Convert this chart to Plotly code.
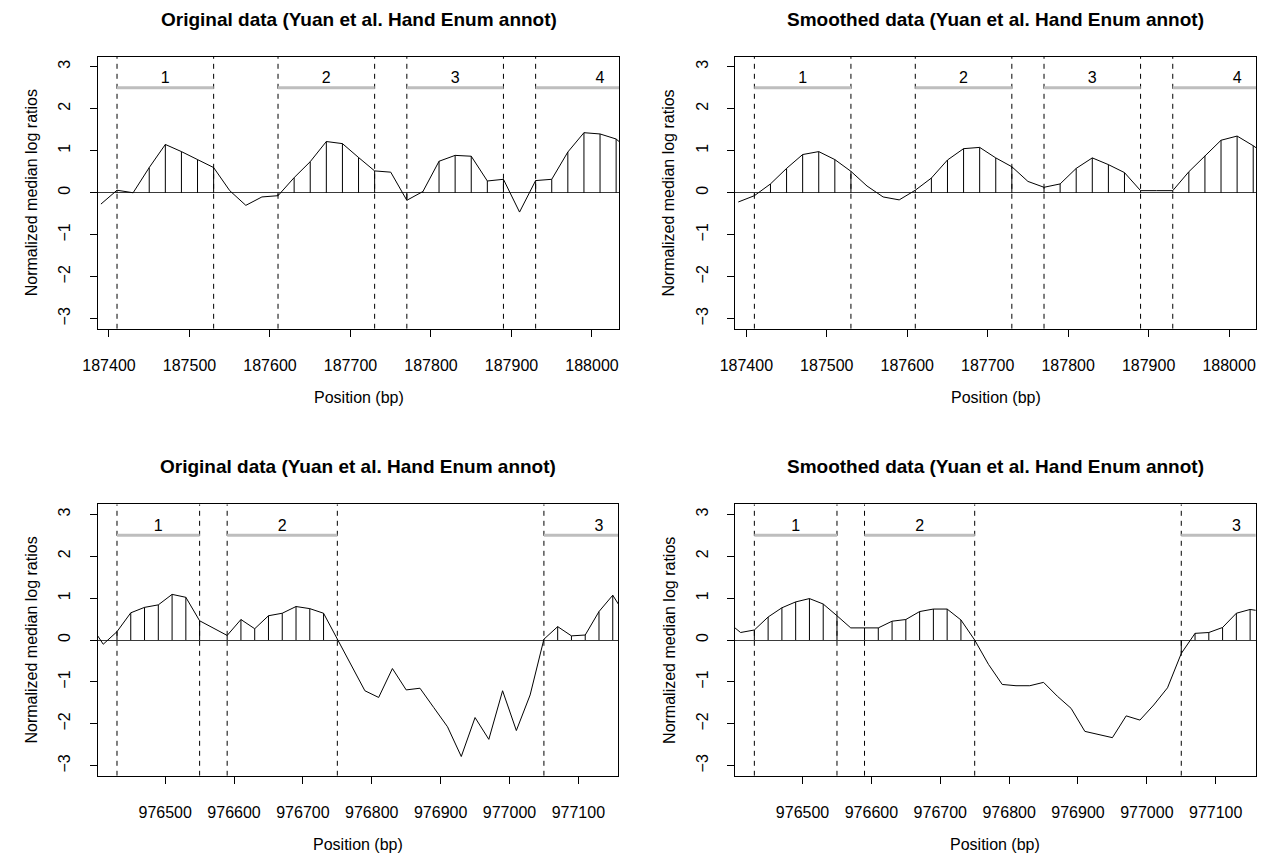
import plotly.graph_objects as go

W, H = 1267, 856

# ---------------- data ----------------
top_pos = [187390, 187410, 187430, 187450, 187470, 187490, 187510, 187530, 187550, 187570,
           187590, 187610, 187630, 187650, 187670, 187690, 187710, 187730, 187750, 187770,
           187790, 187810, 187830, 187850, 187870, 187890, 187910, 187930, 187950, 187970,
           187990, 188010, 188030, 188050]
top_original = [-0.27, 0.06, 0.00, 0.60, 1.15, 0.98, 0.79, 0.60, 0.05, -0.30,
                -0.10, -0.07, 0.36, 0.74, 1.22, 1.17, 0.84, 0.52, 0.49, -0.18,
                0.03, 0.75, 0.89, 0.87, 0.28, 0.32, -0.46, 0.29, 0.32, 0.97,
                1.43, 1.40, 1.28, 0.95]
top_smoothed = [-0.22, -0.07, 0.21, 0.58, 0.91, 0.98, 0.79, 0.51, 0.16, -0.10,
                -0.17, 0.06, 0.35, 0.78, 1.05, 1.08, 0.83, 0.62, 0.27, 0.13,
                0.21, 0.58, 0.83, 0.67, 0.48, 0.05, 0.05, 0.05, 0.50, 0.88,
                1.25, 1.35, 1.12, 0.85]
top_region_start = [187410, 187610, 187770, 187930]
top_region_end = [187530, 187730, 187890, 188090]
top_region_labels = ["1", "2", "3", "4"]
top_xlim = [187410, 188010]
top_xticks = [187400, 187500, 187600, 187700, 187800, 187900, 188000]

bot_pos = [976390, 976410, 976430, 976450, 976470, 976490, 976510, 976530, 976550, 976570,
           976590, 976610, 976630, 976650, 976670, 976690, 976710, 976730, 976750, 976770,
           976790, 976810, 976830, 976850, 976870, 976890, 976910, 976930, 976950, 976970,
           976990, 977010, 977030, 977050, 977070, 977090, 977110, 977130, 977150, 977170]
bot_original = [0.40, -0.10, 0.20, 0.65, 0.78, 0.84, 1.09, 1.02, 0.46, 0.28,
                0.11, 0.49, 0.27, 0.58, 0.64, 0.80, 0.75, 0.64, 0.02, -0.60,
                -1.21, -1.37, -0.68, -1.19, -1.15, -1.61, -2.07, -2.78, -1.85, -2.37,
                -1.21, -2.16, -1.31, 0.02, 0.32, 0.10, 0.12, 0.68, 1.07, 0.55]
bot_smoothed = [0.45, 0.18, 0.24, 0.55, 0.77, 0.91, 0.99, 0.86, 0.58, 0.29,
                0.29, 0.29, 0.45, 0.49, 0.68, 0.74, 0.74, 0.48, 0.00, -0.58,
                -1.06, -1.09, -1.09, -1.01, -1.34, -1.63, -2.18, -2.25, -2.33, -1.81,
                -1.91, -1.55, -1.14, -0.32, 0.16, 0.18, 0.30, 0.64, 0.73, 0.68]
bot_region_start = [976430, 976590, 977050]
bot_region_end = [976550, 976750, 977210]
bot_region_labels = ["1", "2", "3"]
bot_xlim = [976430, 977130]
bot_xticks = [976500, 976600, 976700, 976800, 976900, 977000, 977100]

ylim = [-3, 3]
yticks = [-3, -2, -1, 0, 1, 2, 3]
region_bar_y = 2.5
region_label_y = 2.70

title_original = "Original data (Yuan et al. Hand Enum annot)"
title_smoothed = "Smoothed data (Yuan et al. Hand Enum annot)"
xlabel = "Position (bp)"
ylabel = "Normalized median log ratios"

# ---------------- styling / layout ----------------
FONT = "Liberation Sans, Arial, Helvetica, sans-serif"
BASE = 16


def ext(lim):
    d = (lim[1] - lim[0]) * 0.04
    return [lim[0] - d, lim[1] + d]


Y_RANGE = ext(ylim)

# plot boxes in pixels: (left, right, top, bottom)
boxes = [
    (83.7, 611.6, 56.7, 328.8),
    (728.7, 1256.3, 56.7, 328.8),
    (83.7, 610.5, 504.3, 775.8),
    (728.7, 1255.5, 504.3, 775.8),
]

panels = [
    (top_pos, top_original, top_region_start, top_region_end, top_region_labels, top_xlim, top_xticks, title_original),
    (top_pos, top_smoothed, top_region_start, top_region_end, top_region_labels, top_xlim, top_xticks, title_smoothed),
    (bot_pos, bot_original, bot_region_start, bot_region_end, bot_region_labels, bot_xlim, bot_xticks, title_original),
    (bot_pos, bot_smoothed, bot_region_start, bot_region_end, bot_region_labels, bot_xlim, bot_xticks, title_smoothed),
]

fig = go.Figure()
annotations = []
layout_axes = {}

for i, (box, panel) in enumerate(zip(boxes, panels)):
    pos, vals, rs, re_, rl, xlim, xticks, title = panel
    L, R, T, B = box
    n = i + 1
    xa = "x" if n == 1 else f"x{n}"
    ya = "y" if n == 1 else f"y{n}"
    xrange_ = ext(xlim)

    # dashed region boundaries
    dx, dy = [], []
    for s, e in zip(rs, re_):
        for v in (s, e):
            dx += [v, v, None]
            dy += [Y_RANGE[0], Y_RANGE[1], None]
    fig.add_trace(go.Scatter(x=dx, y=dy, mode="lines", xaxis=xa, yaxis=ya,
                             line=dict(color="black", width=1, dash="5px,5px"),
                             hoverinfo="skip", showlegend=False))

    # region bars
    bx, by = [], []
    for s, e in zip(rs, re_):
        bx += [s, e, None]
        by += [region_bar_y, region_bar_y, None]
    fig.add_trace(go.Scatter(x=bx, y=by, mode="lines", xaxis=xa, yaxis=ya,
                             line=dict(color="#BEBEBE", width=3),
                             hoverinfo="skip", showlegend=False))
    # region labels
    lx = [(s + e) / 2 for s, e in zip(rs, re_)]
    fig.add_trace(go.Scatter(x=lx, y=[region_label_y] * len(lx), mode="text", text=rl,
                             xaxis=xa, yaxis=ya, textfont=dict(family=FONT, size=BASE, color="black"),
                             hoverinfo="skip", showlegend=False, cliponaxis=True))

    # stems for probes inside regions
    sx, sy = [], []
    for p, v in zip(pos, vals):
        if any(s <= p <= e for s, e in zip(rs, re_)):
            sx += [p, p, None]
            sy += [0, v, None]
    fig.add_trace(go.Scatter(x=sx, y=sy, mode="lines", xaxis=xa, yaxis=ya,
                             line=dict(color="black", width=1),
                             hoverinfo="skip", showlegend=False))

    # data line
    fig.add_trace(go.Scatter(x=pos, y=vals, mode="lines", xaxis=xa, yaxis=ya,
                             line=dict(color="black", width=1),
                             hoverinfo="skip", showlegend=False))

    xdom = [L / W, R / W]
    ydom = [1 - B / H, 1 - T / H]
    common = dict(showline=True, linecolor="black", linewidth=1, mirror=True,
                  ticks="outside", ticklen=7, tickcolor="black", tickwidth=1,
                  showgrid=False, tickfont=dict(family=FONT, size=BASE, color="black"),
                  fixedrange=True)
    layout_axes["xaxis" if n == 1 else f"xaxis{n}"] = dict(
        domain=xdom, range=xrange_, anchor=ya, tickvals=xticks,
        ticktext=[str(t) for t in xticks], zeroline=False, ticklabelstandoff=15, **common)
    layout_axes["yaxis" if n == 1 else f"yaxis{n}"] = dict(
        domain=ydom, range=Y_RANGE, anchor=xa, tickvals=yticks,
        ticktext=[("\u2212" + str(-t)) if t < 0 else str(t) for t in yticks],
        tickangle=-90, zeroline=True, zerolinecolor="#3a3a3a", zerolinewidth=1,
        ticklabelstandoff=13, **common)

    cx = (L + R) / 2 / W
    annotations.append(dict(text=f"<b>{title}</b>", x=cx, y=1 - (T - 37.5) / H, xref="paper", yref="paper",
                            xanchor="center", yanchor="middle", showarrow=False,
                            font=dict(family=FONT, size=19, color="black")))
    annotations.append(dict(text=xlabel, x=cx, y=1 - (B + 68.5) / H, xref="paper", yref="paper",
                            xanchor="center", yanchor="middle", showarrow=False,
                            font=dict(family=FONT, size=BASE, color="black")))
    annotations.append(dict(text=ylabel, x=(L - 67) / W, y=1 - (T + B) / 2 / H, xref="paper", yref="paper",
                            xanchor="center", yanchor="middle", showarrow=False, textangle=-90,
                            font=dict(family=FONT, size=BASE, color="black")))

fig.update_layout(width=W, height=H, margin=dict(l=0, r=0, t=0, b=0),
                  paper_bgcolor="white", plot_bgcolor="white",
                  annotations=annotations, showlegend=False, **layout_axes)

fig.write_html("out.html", config={"displayModeBar": False},
               post_script="document.body.style.margin='0';document.body.style.overflow='hidden';")
